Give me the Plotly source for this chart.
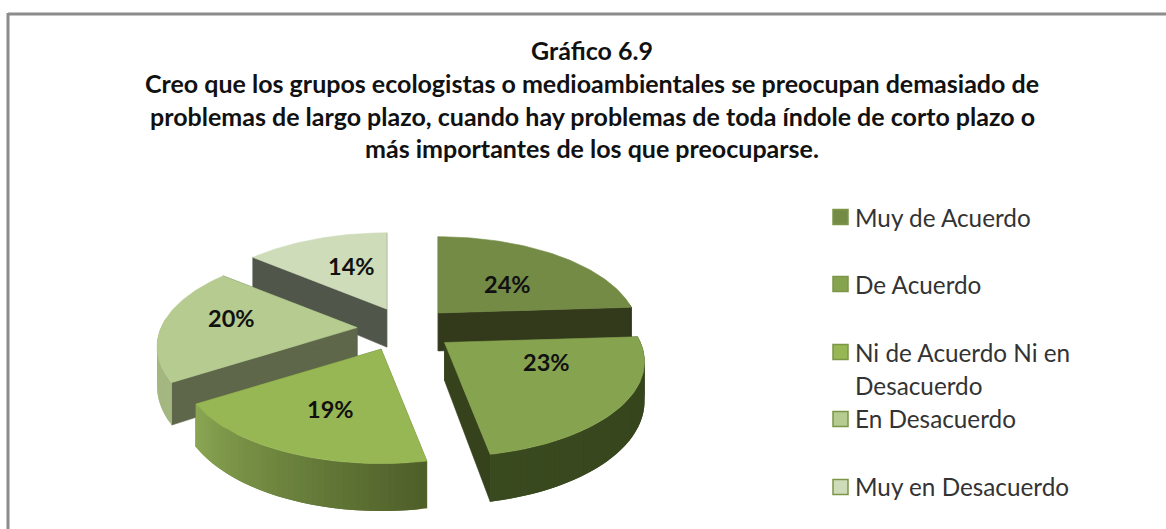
import math
import plotly.graph_objects as go

# ---- data ----
categories = ["Muy de Acuerdo", "De Acuerdo", "Ni de Acuerdo Ni en Desacuerdo",
              "En Desacuerdo", "Muy en Desacuerdo"]
values = [24, 23, 19, 20, 14]
title_lines = ["Gráfico 6.9",
               "Creo que los grupos ecologistas o medioambientales se preocupan demasiado de",
               "problemas de largo plazo, cuando hay problemas de toda índole de corto plazo o",
               "más importantes de los que preocuparse."]
legend_lines = [["Muy de Acuerdo"], ["De Acuerdo"], ["Ni de Acuerdo Ni en", "Desacuerdo"],
                ["En Desacuerdo"], ["Muy en Desacuerdo"]]

# ---- styles ----
top_colors = ["#748b45", "#86a34f", "#97b754", "#b5cb8f", "#cfdcb9"]
radial_colors = ["#33391b", "#35421c", "#5e7030", "#5e6749", "#50564a"]
arc_start = ["#33391b", "#35421c", "#4e5f28", "#a4b781", "#a4b781"]
arc_end = ["#33391b", "#3a4a1f", "#8aa653", "#a4b781", "#a4b781"]
legend_edge = "#7c9648"

# ---- projection geometry of the tilted, exploded pie ----
CX, CY, EX, EY = 403, 329, 50, 22
A, B, P, DEPTH = 196, 91.5, 0.2, 38
explode_nudge_x = [1, 2, -2, 4, 5]


def project(apex, t_deg):
    t = math.radians(t_deg)
    wy = -math.cos(t)
    w = 1 / (1 - P * wy)
    return apex[0] + A * math.sin(t) * w, apex[1] + B * wy * w, DEPTH * w


def mix(c1, c2, f):
    a = [int(c1[i:i + 2], 16) for i in (1, 3, 5)]
    b = [int(c2[i:i + 2], 16) for i in (1, 3, 5)]
    return "rgb(%d,%d,%d)" % tuple(round(x + (y - x) * f) for x, y in zip(a, b))


fig = go.Figure()


def poly(xs, ys, color, lw=0.6):
    fig.add_trace(go.Scatter(x=xs + xs[:1], y=ys + ys[:1], mode="lines", fill="toself",
                             fillcolor=color, line=dict(color=color, width=lw),
                             hoverinfo="skip", showlegend=False))


total = sum(values)
starts, acc = [], 0
for v in values:
    starts.append(acc / total * 360)
    acc += v

for i in [4, 0, 3, 1, 2]:  # back-to-front
    a0 = starts[i]
    a1 = a0 + values[i] / total * 360
    mid = math.radians((a0 + a1) / 2)
    apex = (CX + EX * math.sin(mid) + explode_nudge_x[i], CY - EY * math.cos(mid))
    # radial faces
    for a in (a0, a1):
        x, y, d = project(apex, a)
        poly([apex[0], x, x, apex[0]], [apex[1], y, y + d, apex[1] + DEPTH], radial_colors[i])
    # outer wall (only the part facing the viewer), as overlapping gradient strips
    b0, b1 = max(a0, 84), min(a1, 276)
    if b1 > b0:
        n = max(6, int((b1 - b0) / 1.5))
        for k in range(n):
            p = project(apex, b0 + (b1 - b0) * k / n)
            q = project(apex, b0 + (b1 - b0) * min(k + 2, n) / n)
            poly([p[0], q[0], q[0], p[0]], [p[1], q[1], q[1] + q[2], p[1] + p[2]],
                 mix(arc_start[i], arc_end[i], k / max(n - 1, 1)), lw=0)
    # top surface
    pts = [project(apex, a0 + (a1 - a0) * k / 60) for k in range(61)]
    poly([apex[0]] + [p[0] for p in pts], [apex[1]] + [p[1] for p in pts], top_colors[i])

# legend swatches
legend_y = [217, 284, 352, 419, 487]
fig.add_trace(go.Scatter(x=[840.5] * 5, y=legend_y, mode="markers", hoverinfo="skip", showlegend=False,
                         marker=dict(symbol="square", size=15, color=top_colors,
                                     line=dict(color=legend_edge, width=1.5))))

ann = []
# title body
for txt, y in zip(title_lines[1:], [83, 116, 148]):
    ann.append(dict(x=592, y=y, text="<b>%s</b>" % txt, showarrow=False, xanchor="center", yanchor="middle",
                    font=dict(family="Lato", size=25, color="#111111")))
# percent labels
label_x = [507, 546, 330, 231, 351]
label_y = [284, 362, 409, 318, 266]
for v, x, y in zip(values, label_x, label_y):
    ann.append(dict(x=x, y=y, text="<b>%d%%</b>" % v, showarrow=False, xanchor="center", yanchor="middle",
                    font=dict(family="Lato", size=23.5, color="#111111")))
# legend text
legend_text_y = [[217], [284], [352, 385], [418], [486]]
for lines, ys in zip(legend_lines, legend_text_y):
    for t, y in zip(lines, ys):
        ann.append(dict(x=853, y=y, text=t, showarrow=False, xanchor="left", yanchor="middle",
                        font=dict(family="Lato", size=24.3, color="#333333")))

fig.update_layout(
    width=1166, height=529, margin=dict(l=0, r=0, t=0, b=0),
    paper_bgcolor="white", plot_bgcolor="white",
    title=dict(text="<b>%s</b>" % title_lines[0], x=592 / 1166, xanchor="center", y=1 - 51 / 529, yanchor="middle",
               font=dict(family="Lato", size=25, color="#111111")),
    xaxis=dict(range=[0, 1166], visible=False, fixedrange=True),
    yaxis=dict(range=[529, 0], visible=False, fixedrange=True),
    annotations=ann,
    shapes=[dict(type="line", x0=8, y0=14, x1=1166, y1=14, line=dict(color="#8c8c8c", width=3)),
            dict(type="line", x0=8, y0=13, x1=8, y1=529, line=dict(color="#8c8c8c", width=3))],
)
fig.write_html("out.html", config={"displayModeBar": False},
               post_script="document.body.style.margin='0';")
